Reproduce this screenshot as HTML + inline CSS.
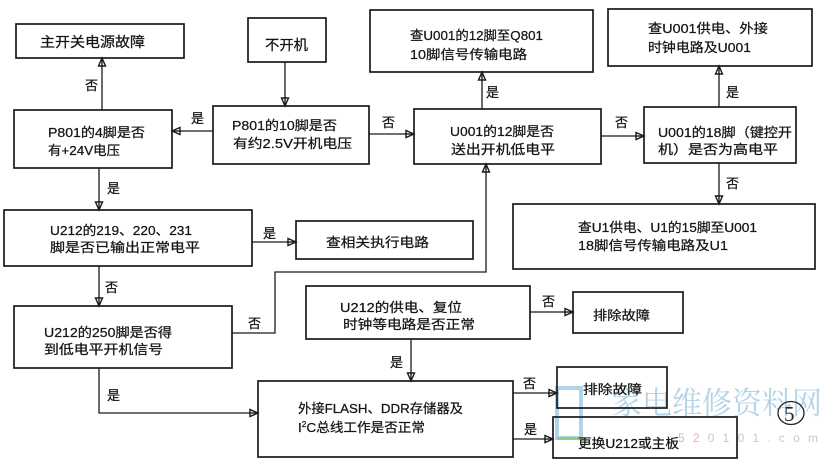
<!DOCTYPE html>
<html><head><meta charset="utf-8"><style>
html,body{margin:0;padding:0;background:#fff;}
svg{display:block;}
text{font-family:"Liberation Sans","Noto Sans CJK SC",sans-serif;font-size:13px;fill:#151515;stroke:#151515;stroke-width:0.25;}
.b{fill:none;stroke:#1a1a1a;stroke-width:1.7;}
.l{fill:none;stroke:#1a1a1a;stroke-width:1.3;}
</style></head><body>
<svg width="834" height="461" viewBox="0 0 834 461" xmlns="http://www.w3.org/2000/svg">
<defs>
<marker id="a" markerUnits="userSpaceOnUse" markerWidth="12" markerHeight="10" refX="9" refY="4.5" orient="auto">
<polygon points="1,1 9,4.5 1,8" fill="#fff" stroke="#1a1a1a" stroke-width="1.4"/>
<line x1="0" y1="4.5" x2="8" y2="4.5" stroke="#1a1a1a" stroke-width="1.4"/>
</marker>
</defs>

<!-- watermark (behind) -->
<rect x="557" y="388" width="24" height="50" fill="none" stroke="#b0d5e8" stroke-width="4"/>
<text x="612" y="414" textLength="210" lengthAdjust="spacingAndGlyphs" style="font-size:31px;fill:#b4d4e6;stroke:none;font-family:'Noto Serif CJK SC','Noto Sans CJK SC',serif;">家电维修资料网</text>
<text x="678" y="442" textLength="140" lengthAdjust="spacing" style="font-size:12px;fill:#c9c9c9;stroke:none;"><tspan style="fill:#e6b2b2">52</tspan>0101.com</text>
<line x1="557" y1="438.5" x2="585" y2="438.5" stroke="#8fcf7a" stroke-width="3"/>
<ellipse cx="791" cy="413" rx="13" ry="11.5" fill="none" stroke="#222" stroke-width="1.3"/>
<text x="784" y="421" style="font-family:'Liberation Serif',serif;font-size:21px;fill:#222;stroke:none;">5</text>

<!-- boxes -->
<rect class="b" x="16" y="24" width="168" height="34"/>
<rect class="b" x="248" y="18" width="78" height="44"/>
<rect class="b" x="14" y="110" width="158" height="58"/>
<rect class="b" x="213" y="106" width="156" height="58"/>
<rect class="b" x="370" y="10" width="223" height="62"/>
<rect class="b" x="414" y="109" width="187" height="55"/>
<rect class="b" x="608" y="9" width="204" height="57"/>
<rect class="b" x="644" y="107" width="152" height="56"/>
<rect class="b" x="4" y="210" width="248" height="56"/>
<rect class="b" x="296" y="221" width="177" height="38"/>
<rect class="b" x="14" y="306" width="218" height="62"/>
<rect class="b" x="306" y="286" width="224" height="53"/>
<rect class="b" x="573" y="292" width="110" height="41"/>
<rect class="b" x="513" y="204" width="302" height="65"/>
<rect class="b" x="258" y="381" width="255" height="76"/>
<rect class="b" x="557" y="367" width="110" height="41"/>
<rect class="b" x="553" y="417" width="184" height="41"/>

<!-- connectors -->
<line class="l" x1="285" y1="62" x2="285" y2="106" marker-end="url(#a)"/>
<line class="l" x1="213" y1="131" x2="172" y2="131" marker-end="url(#a)"/>
<line class="l" x1="102" y1="110" x2="102" y2="58" marker-end="url(#a)"/>
<line class="l" x1="369" y1="134" x2="414" y2="134" marker-end="url(#a)"/>
<line class="l" x1="482" y1="109" x2="482" y2="72" marker-end="url(#a)"/>
<line class="l" x1="601" y1="136" x2="644" y2="136" marker-end="url(#a)"/>
<line class="l" x1="719" y1="107" x2="719" y2="66" marker-end="url(#a)"/>
<line class="l" x1="719" y1="163" x2="719" y2="204" marker-end="url(#a)"/>
<line class="l" x1="99" y1="168" x2="99" y2="210" marker-end="url(#a)"/>
<line class="l" x1="252" y1="242" x2="296" y2="242" marker-end="url(#a)"/>
<line class="l" x1="99" y1="266" x2="99" y2="306" marker-end="url(#a)"/>
<polyline class="l" points="232,333 275,333 275,272 486,272 486,164" marker-end="url(#a)"/>
<line class="l" x1="530" y1="312" x2="573" y2="312" marker-end="url(#a)"/>
<line class="l" x1="411" y1="339" x2="411" y2="381" marker-end="url(#a)"/>
<polyline class="l" points="99,368 99,413 258,413" marker-end="url(#a)"/>
<line class="l" x1="513" y1="393" x2="557" y2="393" marker-end="url(#a)"/>
<line class="l" x1="513" y1="439" x2="553" y2="439" marker-end="url(#a)"/>

<!-- box text -->
<text x="40" y="47" textLength="105" lengthAdjust="spacingAndGlyphs" style="font-size:14px">主开关电源故障</text>
<text x="265" y="50" textLength="43" lengthAdjust="spacingAndGlyphs" style="font-size:14px">不开机</text>
<text x="48" y="137" textLength="97" lengthAdjust="spacingAndGlyphs">P801的4脚是否</text>
<text x="48" y="155" textLength="72" lengthAdjust="spacingAndGlyphs">有+24V电压</text>
<text x="232" y="130" textLength="105" lengthAdjust="spacingAndGlyphs">P801的10脚是否</text>
<text x="233" y="148" textLength="119" lengthAdjust="spacingAndGlyphs">有约2.5V开机电压</text>
<text x="410" y="40" textLength="133" lengthAdjust="spacingAndGlyphs">查U001的12脚至Q801</text>
<text x="410" y="59" textLength="117" lengthAdjust="spacingAndGlyphs">10脚信号传输电路</text>
<text x="450" y="136" textLength="104" lengthAdjust="spacingAndGlyphs">U001的12脚是否</text>
<text x="451" y="154" textLength="104" lengthAdjust="spacingAndGlyphs">送出开机低电平</text>
<text x="648" y="33" textLength="120" lengthAdjust="spacingAndGlyphs">查U001供电、外接</text>
<text x="648" y="52" textLength="103" lengthAdjust="spacingAndGlyphs">时钟电路及U001</text>
<text x="658" y="137" textLength="134" lengthAdjust="spacingAndGlyphs">U001的18脚（键控开</text>
<text x="658" y="154" textLength="120" lengthAdjust="spacingAndGlyphs">机）是否为高电平</text>
<text x="50" y="235" textLength="142" lengthAdjust="spacingAndGlyphs">U212的219、220、231</text>
<text x="50" y="252" textLength="150" lengthAdjust="spacingAndGlyphs">脚是否已输出正常电平</text>
<text x="326" y="247" textLength="103" lengthAdjust="spacingAndGlyphs">查相关执行电路</text>
<text x="44" y="337" textLength="128" lengthAdjust="spacingAndGlyphs">U212的250脚是否得</text>
<text x="44" y="354" textLength="119" lengthAdjust="spacingAndGlyphs">到低电平开机信号</text>
<text x="340" y="312" textLength="122" lengthAdjust="spacingAndGlyphs">U212的供电、复位</text>
<text x="343" y="329" textLength="132" lengthAdjust="spacingAndGlyphs">时钟等电路是否正常</text>
<text x="593" y="320" textLength="57" lengthAdjust="spacingAndGlyphs">排除故障</text>
<text x="578" y="232" textLength="179" lengthAdjust="spacingAndGlyphs">查U1供电、U1的15脚至U001</text>
<text x="578" y="250" textLength="150" lengthAdjust="spacingAndGlyphs">18脚信号传输电路及U1</text>
<text x="298" y="413" textLength="165" lengthAdjust="spacingAndGlyphs">外接FLASH、DDR存储器及</text>
<text x="298" y="432" textLength="127" lengthAdjust="spacingAndGlyphs">I<tspan dy="-5" style="font-size:8px">2</tspan><tspan dy="5">C总线工作是否正常</tspan></text>
<text x="583" y="394" textLength="59" lengthAdjust="spacingAndGlyphs">排除故障</text>
<text x="578" y="448" textLength="101" lengthAdjust="spacingAndGlyphs">更换U212或主板</text>

<!-- connector labels -->
<text x="85" y="90">否</text>
<text x="191" y="123">是</text>
<text x="382" y="127">否</text>
<text x="107" y="193">是</text>
<text x="486" y="97">是</text>
<text x="615" y="127">否</text>
<text x="726" y="97">是</text>
<text x="726" y="188">否</text>
<text x="263" y="238">是</text>
<text x="105" y="292">否</text>
<text x="248" y="328">否</text>
<text x="390" y="367">是</text>
<text x="542" y="306">否</text>
<text x="107" y="400">是</text>
<text x="523" y="388">否</text>
<text x="524" y="434">是</text>
</svg>
</body></html>
